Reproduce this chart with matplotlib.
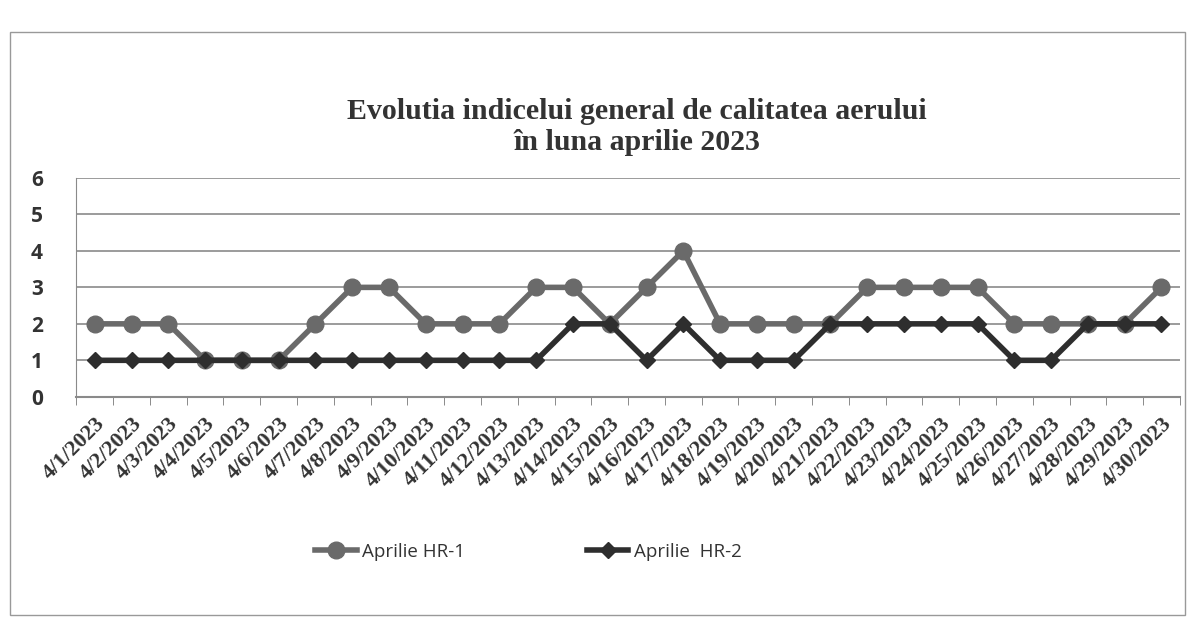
import matplotlib
matplotlib.use("Agg")
from matplotlib import pyplot as plt
from matplotlib.patches import Rectangle

days = ["4/%d/2023" % d for d in range(1, 31)]
hr1 = [2, 2, 2, 1, 1, 1, 2, 3, 3, 2, 2, 2, 3, 3, 2, 3, 4, 2, 2, 2, 2, 3, 3, 3, 3, 2, 2, 2, 2, 3]
hr2 = [1, 1, 1, 1, 1, 1, 1, 1, 1, 1, 1, 1, 1, 2, 2, 1, 2, 1, 1, 1, 2, 2, 2, 2, 2, 1, 1, 2, 2, 2]
yticks = [0, 1, 2, 3, 4, 5, 6]

fig = plt.figure(figsize=(11.93, 6.2), dpi=100)
ax = fig.add_axes([0.064, 0.36, 0.925, 0.353])

x = list(range(len(days)))
ax.plot(x, hr1, color="#6a6a6a", lw=4, marker="o", ms=12, label="Aprilie HR-1", zorder=3)
ax.plot(x, hr2, color="#2e2e2e", lw=4, marker="D", ms=8, label="Aprilie  HR-2", zorder=4)

ax.set_xlim(-0.5, len(days) - 0.5)
ax.set_ylim(0, 6)
ax.set_yticks(yticks)
ax.set_yticklabels([str(v) for v in yticks], fontfamily="Open Sans", fontweight="bold",
                   fontsize=15, color="#333333")
ax.yaxis.grid(True, color="#8a8a8a", lw=1.2)
ax.set_axisbelow(True)
ax.tick_params(axis="y", length=0, pad=24)

ax.set_xticks(x)
ax.set_xticklabels(days, rotation=45, ha="right", va="top", rotation_mode="anchor",
                   fontfamily="Liberation Serif", fontweight="bold", fontsize=16, color="#333333")
ax.set_xticks([i - 0.5 for i in range(len(days) + 1)], minor=True)
ax.tick_params(axis="x", which="major", length=0, pad=12)
ax.tick_params(axis="x", which="minor", length=6, color="#777777", direction="out")

for s in ["top", "right"]:
    ax.spines[s].set_visible(False)
ax.spines["left"].set_color("#8a8a8a")
ax.spines["bottom"].set_color("#8a8a8a")
ax.spines["bottom"].set_linewidth(1.5)

fig.text(0.534, 0.795, "Evolutia indicelui general de calitatea aerului\nîn luna aprilie 2023",
         ha="center", va="center", fontfamily="Liberation Serif", fontweight="bold",
         fontsize=21.5, color="#333333", linespacing=1.2)

fig.legend(loc="center", bbox_to_anchor=(0.443, 0.11), ncol=2, frameon=False,
           prop={"family": "Open Sans", "size": 13.5}, columnspacing=6.5, handlelength=2.2,
           handletextpad=0.3, labelcolor="#333333")

fig.patches.append(Rectangle((0.008, 0.008), 0.985, 0.94, transform=fig.transFigure,
                             fill=False, edgecolor="#999999", lw=1))

plt.savefig("out.png", dpi=100)
plt.close()
